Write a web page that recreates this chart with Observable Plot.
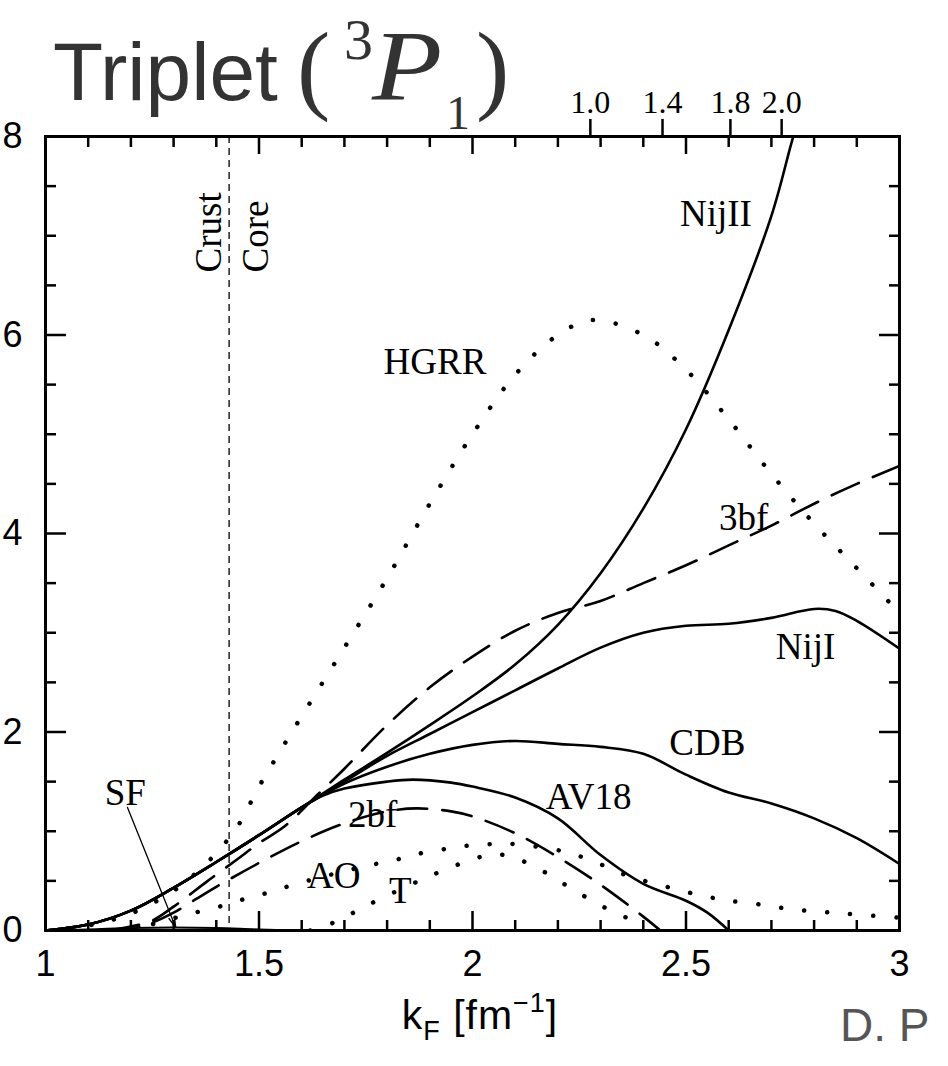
<!DOCTYPE html>
<html>
<head>
<meta charset="utf-8">
<script src="https://cdn.jsdelivr.net/npm/d3@7"></script>
<script src="https://cdn.jsdelivr.net/npm/@observablehq/plot@0.6"></script>
<style>
  html, body { margin: 0; padding: 0; background: #fff; }
  #wrap { position: relative; width: 948px; height: 1066px; overflow: hidden; }
  #chart { position: absolute; left: 0; top: 0; }
  .ov { position: absolute; white-space: nowrap; line-height: 1; margin: 0; }
  .sans { font-family: "Liberation Sans", Arial, sans-serif; }
  .serif { font-family: "Liberation Serif", "Times New Roman", serif; }
</style>
</head>
<body>
<div id="wrap">
  <div id="chart"></div>
  <div class="ov sans" style="left:53px; top:31px; font-size:82px; color:#333;">Triplet</div>
  <div class="ov serif" style="left:297px; top:18px; font-size:100px; color:#333;">(</div>
  <div class="ov serif" style="left:344px; top:11px; font-size:58px; color:#333;">3</div>
  <div class="ov serif" style="left:372px; top:16px; font-size:100px; font-style:italic; color:#333; transform:scaleX(1.15); transform-origin:left top;">P</div>
  <div class="ov serif" style="left:446px; top:89px; font-size:48px; color:#333;">1</div>
  <div class="ov serif" style="left:476px; top:18px; font-size:100px; color:#333;">)</div>
  <div class="ov sans" style="left:50px; width:860px; text-align:center; top:995px; font-size:41px; color:#000; letter-spacing:1px;">k<span style="font-size:27px; position:relative; top:11px;">F</span> [fm<span style="font-size:27px; position:relative; top:-17px;">−1</span>]</div>
  <div class="ov sans" style="left:840px; top:1002px; font-size:46px; color:#555;">D. P</div>
</div>
<script>
// ---- data: [kF (fm^-1), gap (MeV)] ----
const NijII = [[1.0,0],[1.1,0.06],[1.2,0.2],[1.3,0.43],[1.4,0.69],[1.5,0.96],[1.6,1.24],[1.7,1.52],[1.8,1.79],[1.9,2.07],[2.0,2.36],[2.1,2.68],[2.2,3.08],[2.3,3.6],[2.4,4.25],[2.5,5.05],[2.6,6.05],[2.7,7.2],[2.75,7.98],[2.78,8.4]];
const NijI = [[1.0,0],[1.1,0.06],[1.2,0.2],[1.3,0.43],[1.4,0.69],[1.5,0.96],[1.6,1.24],[1.7,1.5],[1.8,1.76],[1.9,1.98],[2.0,2.2],[2.1,2.42],[2.2,2.64],[2.3,2.85],[2.4,3.0],[2.5,3.07],[2.6,3.09],[2.7,3.15],[2.8,3.24],[2.85,3.22],[2.9,3.12],[3.0,2.84]];
const CDB = [[1.0,0],[1.1,0.06],[1.2,0.2],[1.3,0.43],[1.4,0.69],[1.5,0.96],[1.6,1.24],[1.7,1.48],[1.8,1.65],[1.9,1.78],[2.0,1.87],[2.1,1.91],[2.2,1.88],[2.3,1.85],[2.4,1.78],[2.5,1.57],[2.6,1.39],[2.7,1.28],[2.8,1.13],[2.9,0.93],[3.0,0.67]];
const AV18 = [[1.0,0],[1.1,0.06],[1.2,0.2],[1.3,0.43],[1.4,0.69],[1.5,0.96],[1.6,1.24],[1.65,1.36],[1.7,1.43],[1.8,1.5],[1.86,1.52],[1.95,1.49],[2.0,1.45],[2.1,1.34],[2.2,1.13],[2.3,0.76],[2.4,0.47],[2.5,0.3],[2.55,0.18],[2.6,0.0]];
const SF = [[1.0,0],[1.1,0.01],[1.2,0.025],[1.3,0.03],[1.4,0.025],[1.5,0.01],[1.6,0]];
const bf2 = [[1.15,0],[1.2,0.02],[1.25,0.08],[1.3,0.18],[1.35,0.31],[1.4,0.44],[1.5,0.68],[1.6,0.9],[1.7,1.08],[1.8,1.2],[1.87,1.23],[1.95,1.2],[2.0,1.15],[2.1,0.98],[2.2,0.74],[2.3,0.46],[2.4,0.14],[2.44,0.0]];
const bf3 = [[1.15,0],[1.2,0.04],[1.25,0.1],[1.3,0.24],[1.38,0.5],[1.45,0.72],[1.5,0.88],[1.56,1.05],[1.64,1.38],[1.7,1.63],[1.8,2.07],[1.9,2.45],[2.0,2.76],[2.1,3.02],[2.2,3.2],[2.3,3.32],[2.4,3.5],[2.5,3.68],[2.6,3.88],[2.7,4.08],[2.8,4.3],[2.9,4.5],[3.0,4.68]];
const HGRR = [[1.0,0],[1.1,0.05],[1.2,0.17],[1.3,0.4],[1.35,0.57],[1.4,0.78],[1.45,1.05],[1.5,1.45],[1.55,1.81],[1.6,2.16],[1.7,2.85],[1.8,3.55],[1.9,4.3],[2.0,5.0],[2.1,5.6],[2.2,6.0],[2.28,6.15],[2.4,6.0],[2.5,5.65],[2.6,5.15],[2.7,4.6],[2.8,4.1],[2.9,3.65],[3.0,3.2]];
const AO = [[1.2,0],[1.28,0.1],[1.35,0.18],[1.415,0.25],[1.46,0.31],[1.52,0.38],[1.58,0.46],[1.75,0.65],[1.81,0.7],[1.86,0.76],[1.92,0.81],[1.98,0.85],[2.04,0.87],[2.1,0.87],[2.21,0.8],[2.27,0.72],[2.32,0.63],[2.37,0.54],[2.43,0.47],[2.49,0.4],[2.55,0.34],[2.6,0.3],[2.66,0.27],[2.72,0.23],[2.78,0.2],[2.84,0.18],[2.9,0.16],[3.0,0.13]];
const T = [[1.62,0],[1.675,0.08],[1.726,0.19],[1.78,0.31],[1.885,0.52],[1.94,0.62],[1.99,0.7],[2.05,0.77],[2.105,0.72],[2.16,0.61],[2.21,0.48],[2.26,0.35],[2.31,0.23],[2.36,0.13],[2.4,0.05]];

// ---- annotations ----
const curveLabels = [
  {text: "NijII", x: 2.57, y: 7.22},
  {text: "HGRR", x: 1.912, y: 5.73},
  {text: "3bf", x: 2.635, y: 4.15},
  {text: "NijI", x: 2.78, y: 2.85},
  {text: "CDB", x: 2.55, y: 1.89},
  {text: "AV18", x: 2.272, y: 1.34},
  {text: "SF", x: 1.187, y: 1.38},
  {text: "2bf", x: 1.766, y: 1.16},
  {text: "AO", x: 1.675, y: 0.55},
  {text: "T", x: 1.831, y: 0.4}
];
const crustCoreKF = 1.43;
const regionLabels = [
  {text: "Crust", x: 1.41, y: 6.63},
  {text: "Core", x: 1.522, y: 6.63}
];
const sfArrow = [{x1: 1.192, y1: 1.24, x2: 1.305, y2: 0.03}];

// ---- axes ----
const xMajor = [1, 1.5, 2, 2.5, 3];
const xMajorLabels = ["1", "1.5", "2", "2.5", "3"];
const xMinor = [1.1,1.2,1.3,1.4,1.6,1.7,1.8,1.9,2.1,2.2,2.3,2.4,2.6,2.7,2.8,2.9];
const yMajor = [0, 2, 4, 6, 8];
const yMajorLabels = ["0", "2", "4", "6", "8"];
const yMinor = [0.5,1,1.5,2.5,3,3.5,4.5,5,5.5,6.5,7,7.5];
const topTickKF = [2.276, 2.445, 2.604, 2.724];
const topTickLabels = ["1.0", "1.4", "1.8", "2.0"];

const P = () => ({x: d => d[0], y: d => d[1]});
const solid = {stroke: "#000", strokeWidth: 2.6, curve: "catmull-rom", clip: true};
const dashed = {stroke: "#000", strokeWidth: 2.6, strokeDasharray: "30 15", curve: "catmull-rom", clip: true};
const dotted = {stroke: "#000", strokeWidth: 4.5, strokeDasharray: "0.1 23", strokeLinecap: "round", curve: "catmull-rom", clip: true};
const tickStyle = {fill: "none", label: null, strokeWidth: 2.5};

const chart = Plot.plot({
  width: 948,
  height: 1066,
  marginLeft: 45,
  marginRight: 49,
  marginTop: 136,
  marginBottom: 136,
  x: {domain: [1, 3]},
  y: {domain: [0, 8]},
  style: {fontFamily: "'Liberation Serif', 'Times New Roman', serif", background: "transparent", color: "#000"},
  marks: [
    // inward ticks on all four sides
    Plot.axisX(xMinor, {anchor: "bottom", tickSize: -10, ...tickStyle}),
    Plot.axisX(xMajor, {anchor: "bottom", tickSize: -19, ...tickStyle}),
    Plot.axisX(xMinor, {anchor: "top", tickSize: -10, ...tickStyle}),
    Plot.axisX(xMajor, {anchor: "top", tickSize: -17, ...tickStyle}),
    Plot.axisY(yMinor, {anchor: "left", tickSize: -11, ...tickStyle}),
    Plot.axisY(yMajor, {anchor: "left", tickSize: -21, ...tickStyle}),
    Plot.axisY(yMinor, {anchor: "right", tickSize: -11, ...tickStyle}),
    Plot.axisY(yMajor, {anchor: "right", tickSize: -21, ...tickStyle}),
    // labels
    Plot.axisX(xMajor, {anchor: "bottom", tickSize: 0, tickPadding: 20, fontSize: 36, fontFamily: "'Liberation Sans', Arial, sans-serif", label: null, tickFormat: d => xMajorLabels[xMajor.indexOf(d)]}),
    Plot.axisY(yMajor, {anchor: "left", tickSize: 0, tickPadding: 23, fontSize: 36, fontFamily: "'Liberation Sans', Arial, sans-serif", label: null, tickFormat: d => yMajorLabels[yMajor.indexOf(d)]}),
    Plot.axisX(topTickKF, {anchor: "top", tickSize: 18, tickPadding: 6, strokeWidth: 2.5, fontSize: 32, fontFamily: "'Liberation Serif', serif", label: null, tickFormat: d => topTickLabels[topTickKF.indexOf(d)]}),
    // crust/core boundary
    Plot.ruleX([crustCoreKF], {stroke: "#000", strokeWidth: 1.3, strokeDasharray: "7 5"}),
    Plot.text(regionLabels, {x: "x", y: "y", text: "text", rotate: -90, textAnchor: "start", lineAnchor: "bottom", fontSize: 37}),
    // curves
    Plot.line(HGRR, {...P(), ...dotted}),
    Plot.line(AO, {...P(), ...dotted}),
    Plot.line(T, {...P(), ...dotted}),
    Plot.line(bf2, {...P(), ...dashed}),
    Plot.line(bf3, {...P(), ...dashed}),
    Plot.line(NijII, {...P(), ...solid}),
    Plot.line(NijI, {...P(), ...solid}),
    Plot.line(CDB, {...P(), ...solid}),
    Plot.line(AV18, {...P(), ...solid}),
    Plot.line(SF, {...P(), ...solid, strokeWidth: 2}),
    Plot.arrow(sfArrow, {x1: "x1", y1: "y1", x2: "x2", y2: "y2", stroke: "#000", strokeWidth: 1.3, headLength: 13, headAngle: 30}),
    Plot.text(curveLabels, {x: "x", y: "y", text: "text", fontSize: 37}),
    Plot.frame({stroke: "#000", strokeWidth: 3})
  ]
});
document.getElementById("chart").appendChild(chart);
</script>
</body>
</html>
